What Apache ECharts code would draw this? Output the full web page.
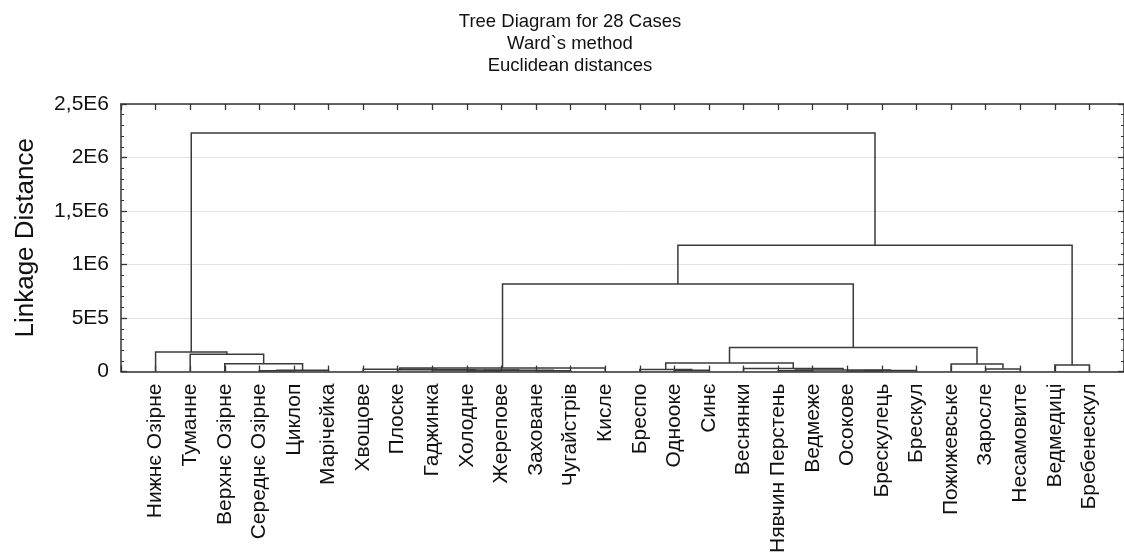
<!DOCTYPE html>
<html><head><meta charset="utf-8">
<script src="https://cdn.jsdelivr.net/npm/echarts@6/dist/echarts.min.js"></script>
<style>html,body{margin:0;padding:0;background:#fff}#c{width:1124px;height:556px}</style>
</head><body><div id="c"></div>
<script>
const categories = ['Нижнє Озірне','Туманне','Верхнє Озірне','Середнє Озірне','Циклоп','Марічейка','Хвощове','Плоске','Гаджинка','Холодне','Жерепове','Заховане','Чугайстрів','Кисле','Бреспо','Одноокe','Синє','Веснянки','Нявчин Перстень','Ведмеже','Осокове','Брескулець','Брескул','Пожижевське','Заросле','Несамовите','Ведмедиці','Бребенескул'];
// linkage: leaf ids 0..27, cluster ids 28 + merge index
const mergeLeft   = [3, 28, 2, 1, 0, 9, 11, 33, 8, 7, 6, 38, 15, 14, 18, 20, 43, 42, 17, 41, 24, 23, 47, 39, 26, 51, 32];
const mergeRight  = [4, 5, 29, 30, 31, 10, 12, 34, 35, 36, 37, 13, 16, 40, 19, 21, 22, 44, 45, 46, 25, 48, 49, 50, 27, 52, 53];
const mergeHeight = [8000, 13000, 74000, 163000, 183000, 5000, 8000, 12000, 16000, 18000, 22000, 34000, 12000, 20000, 8000, 6000, 10000, 14000, 30000, 81000, 24000, 70000, 226000, 818000, 62000, 1180000, 2230000];
const yTickValues = [0, 500000, 1000000, 1500000, 2000000, 2500000];
const yTickLabels = ['0', '5E5', '1E6', '1,5E6', '2E6', '2,5E6'];

const pos = categories.map((_, i) => i);
const hgt = categories.map(() => 0);
const links = [];
for (let k = 0; k < mergeLeft.length; k++) {
  const a = mergeLeft[k], b = mergeRight[k];
  links.push([pos[a], hgt[a], pos[b], hgt[b], mergeHeight[k]]);
  pos.push((pos[a] + pos[b]) / 2);
  hgt.push(mergeHeight[k]);
}
const FONT = "'Liberation Sans', Arial, sans-serif";
const chart = echarts.init(document.getElementById('c'), null, {renderer: 'canvas'});
const xCommon = {type: 'value', min: -1, max: 28, interval: 1, splitLine: {show: false},
  axisLine: {show: true, onZero: false, lineStyle: {color: '#333', width: 1.5}}};
const yCommon = {type: 'value', min: 0, max: 2500000, interval: 500000,
  axisLine: {show: true, onZero: false, lineStyle: {color: '#333', width: 1.5}}};
chart.setOption({
  animation: false,
  backgroundColor: '#fff',
  title: {
    text: 'Tree Diagram for 28 Cases\nWard`s method\nEuclidean distances',
    left: 565, top: 6, textAlign: 'center',
    textStyle: {fontFamily: FONT, fontSize: 18.5, fontWeight: 'normal', color: '#111', lineHeight: 22}
  },
  grid: {left: 121, top: 104, width: 1005.3, height: 269, show: false},
  xAxis: [
    Object.assign({}, xCommon, {position: 'bottom',
      axisTick: {show: true, inside: true, length: 6, lineStyle: {color: '#333', width: 1.3}},
      axisLabel: {rotate: 90, margin: 12, fontFamily: FONT, fontSize: 21, color: '#111',
        formatter: v => (Number.isInteger(v) && v >= 0 && v < categories.length) ? categories[v] : ''}}),
    Object.assign({}, xCommon, {position: 'top',
      axisTick: {show: true, inside: true, length: 6, lineStyle: {color: '#333', width: 1.3}},
      axisLabel: {show: false}})
  ],
  yAxis: [
    Object.assign({}, yCommon, {position: 'left',
      name: 'Linkage Distance', nameLocation: 'middle', nameRotate: 90, nameGap: 82,
      nameTextStyle: {fontFamily: FONT, fontSize: 26, color: '#111'},
      axisTick: {show: true, inside: true, length: 6, lineStyle: {color: '#333', width: 1.3}},
      minorTick: {show: true, splitNumber: 5, length: 3, lineStyle: {color: '#333', width: 1}},
      splitLine: {show: true, lineStyle: {color: '#e2e2e2', width: 1}},
      axisLabel: {margin: 12, fontFamily: FONT, fontSize: 21, color: '#111',
        formatter: v => { const i = yTickValues.indexOf(v); return i >= 0 ? yTickLabels[i] : ''; }}}),
    Object.assign({}, yCommon, {position: 'right',
      axisTick: {show: true, inside: true, length: 6, lineStyle: {color: '#333', width: 1.3}},
      minorTick: {show: true, splitNumber: 5, length: 3, lineStyle: {color: '#333', width: 1}},
      splitLine: {show: false}, axisLabel: {show: false}})
  ],
  series: [{
    type: 'custom',
    xAxisIndex: 0, yAxisIndex: 0,
    encode: {x: [0, 2], y: [1, 3, 4]},
    data: links,
    renderItem: (params, api) => {
      const p1 = api.coord([api.value(0), api.value(1)]);
      const p2 = api.coord([api.value(0), api.value(4)]);
      const p3 = api.coord([api.value(2), api.value(4)]);
      const p4 = api.coord([api.value(2), api.value(3)]);
      return {type: 'polyline', shape: {points: [p1, p2, p3, p4]},
        style: {stroke: '#3a3a3a', lineWidth: 1.5, fill: null}};
    }
  }]
});
</script></body></html>
